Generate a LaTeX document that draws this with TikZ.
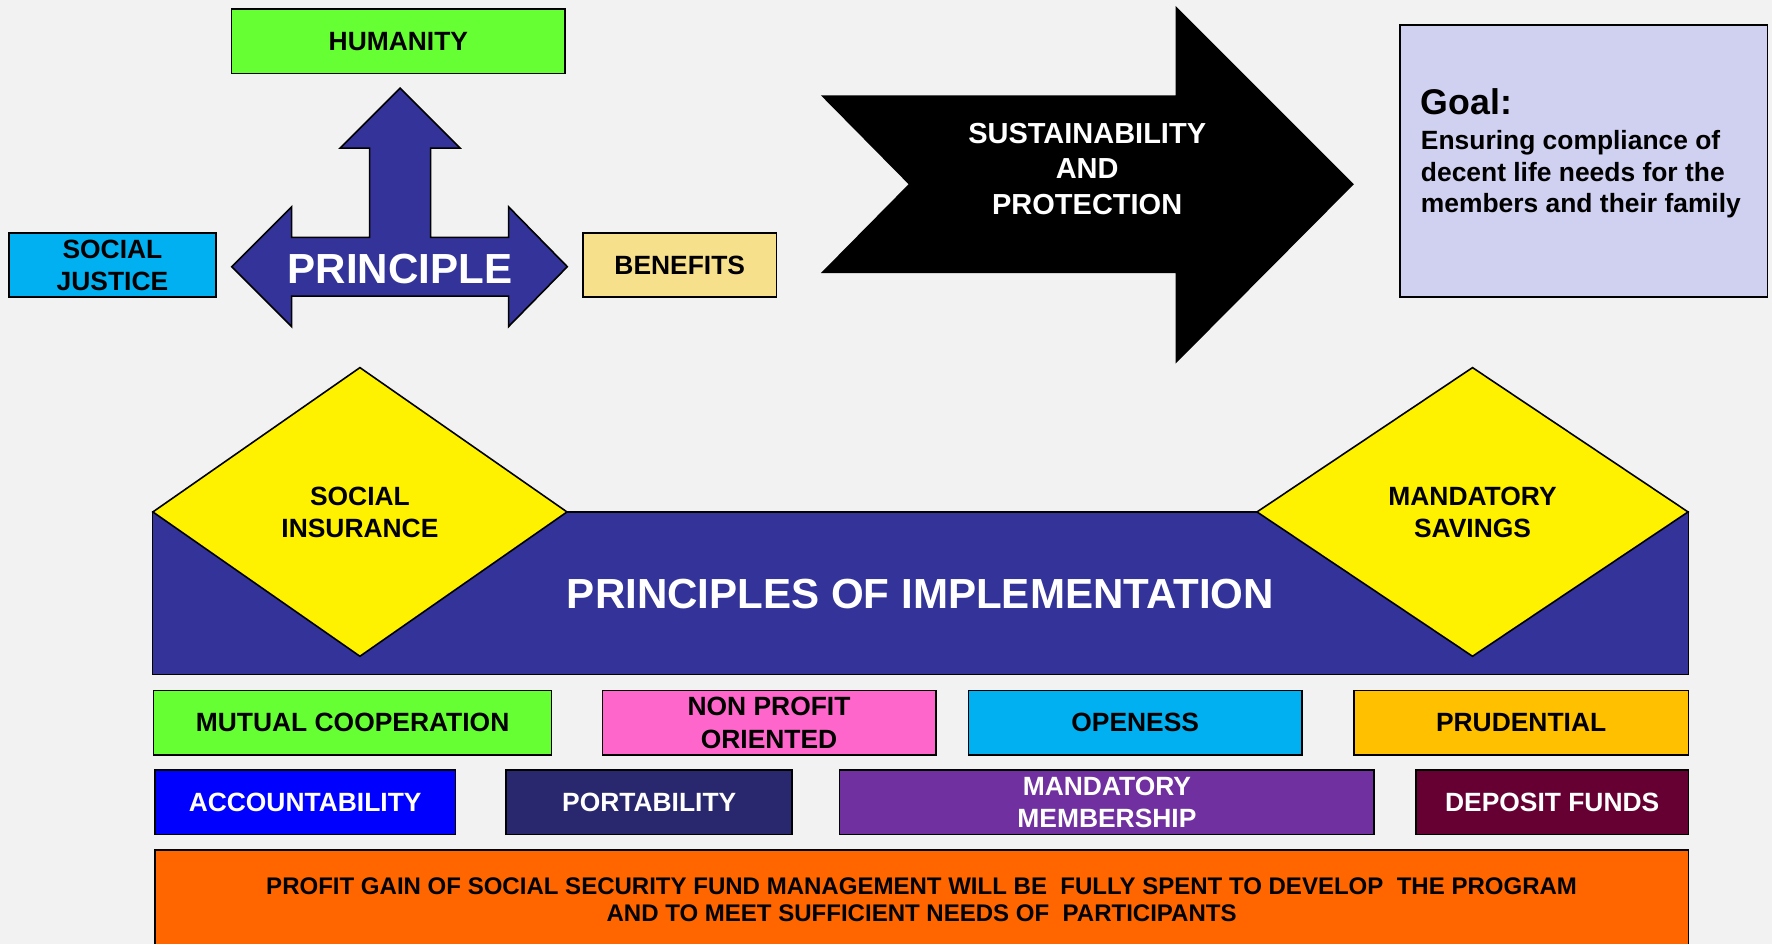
\documentclass[tikz,border=0pt]{standalone}
\usepackage{fontspec}
\setmainfont{Liberation Sans}
\usetikzlibrary{shapes.geometric}
\definecolor{bgc}{HTML}{F2F2F2}
\definecolor{cgreen}{HTML}{66FF33}
\definecolor{ccyan}{HTML}{00B0F0}
\definecolor{ckhaki}{HTML}{F7E08C}
\definecolor{cnavyb}{HTML}{333399}
\definecolor{clav}{HTML}{D0D0F0}
\definecolor{cpink}{HTML}{FF66CC}
\definecolor{cgold}{HTML}{FFC000}
\definecolor{cblue}{HTML}{0000FF}
\definecolor{cnavy}{HTML}{29286E}
\definecolor{cpurple}{HTML}{7030A0}
\definecolor{cmaroon}{HTML}{660033}
\definecolor{corange}{HTML}{FF6600}
\begin{document}
\begin{tikzpicture}[x=0.02cm,y=-0.02cm,line join=miter]
	\tikzset{txt/.style={font=\bfseries\fontsize{13.3}{16.2}\selectfont,align=center,inner sep=0pt},
		box/.style={draw,line width=0.8pt,txt,text depth=-0.06cm},
		wh/.style 2 args={minimum width={(#1)*0.02cm},minimum height={(#2)*0.02cm}},
		shp/.style={draw,line width=0.8pt},
		big/.style={font=\bfseries\fontsize{21.2}{25}\selectfont}}
	\clip (0,0) rectangle (1568,835);
	\fill[bgc] (0,0) rectangle (1568,835);
	% principle arrow
	\draw[shp,fill=cnavyb] (205,236) -- (258,183) -- (258,210) -- (327,210) -- (327,131) -- (301,131) -- (354,78) -- (407,131) -- (381,131) -- (381,210) -- (450,210) -- (450,183) -- (502,236) -- (450,289) -- (450,262) -- (258,262) -- (258,289) -- cycle;
	\node[big,text=white] (pri) at (354,238) {PRINCIPLE};
	\node[box,fill=cgreen,wh={295}{57}] (hum) at (352.5,36.5) {HUMANITY};
	\node[box,fill=ccyan,wh={183}{57}] (sj) at (99.5,234.5) {SOCIAL\\JUSTICE};
	\node[box,fill=ckhaki,wh={171}{57}] (ben) at (601.5,234.5) {BENEFITS};
	% sustainability arrow
	\draw[shp,fill=black] (728,85) -- (1041,85) -- (1041,7) -- (1197,163) -- (1041,320) -- (1041,241) -- (728,241) -- (805,163) -- cycle;
	\node[align=center,inner sep=0pt,text=white,font=\bfseries\fontsize{14.6}{17.93}\selectfont] (sus) at (962,149.5) {SUSTAINABILITY\\AND\\PROTECTION};
	% goal
	\node[draw,line width=0.8pt,fill=clav,wh={325}{241}] (goal) at (1401.5,142.5) {};
	\node[anchor=base west,inner sep=0pt,font=\bfseries\fontsize{18}{21}\selectfont] (goalt) at (1257,101.3) {Goal:};
	\foreach \t [count=\i] in {Ensuring compliance of,decent life needs for the,members and their family}
		\node[txt,anchor=base west] (goal\i) at (1257,{104.3+28*\i}) {\t};
	% implementation
	\node[draw,line width=0.8pt,big,fill=cnavyb,text=white,wh={1359}{144},text depth=-0.08cm] (band) at (814.5,525) {PRINCIPLES OF IMPLEMENTATION};
	\node[diamond,shp,fill=yellow,txt,text depth=-0.06cm,wh={367}{256}] (si) at (318.5,453) {SOCIAL\\INSURANCE};
	\node[diamond,shp,fill=yellow,txt,text depth=-0.06cm,wh={382}{256}] (ms) at (1303,453) {MANDATORY\\SAVINGS};
	\foreach \a/\b/\c/\t/\n in {136/488/cgreen/MUTUAL COOPERATION/mc,533/828/cpink/NON PROFIT\\ORIENTED/np,857/1152/ccyan/OPENESS/op,1198/1494/cgold/PRUDENTIAL/pr}
		\node[box,fill=\c,wh={\b-\a}{57}] (\n) at ({(\a+\b)/2},639.5) {\t};
	\foreach \a/\b/\c/\t/\n in {137/403/cblue/ACCOUNTABILITY/ac,448/701/cnavy/PORTABILITY/po,743/1216/cpurple/MANDATORY\\MEMBERSHIP/mm,1253/1494/cmaroon/DEPOSIT FUNDS/df}
		\node[box,fill=\c,text=white,wh={\b-\a}{57}] (\n) at ({(\a+\b)/2},710) {\t};
	\node[box,fill=corange,wh={1357}{88},font=\bfseries\fontsize{12.1}{14}\selectfont] (prof) at (815.5,796) {PROFIT GAIN OF SOCIAL SECURITY FUND MANAGEMENT WILL BE~ FULLY SPENT TO DEVELOP~ THE PROGRAM\\AND TO MEET SUFFICIENT NEEDS OF~ PARTICIPANTS};
\end{tikzpicture}
\end{document}
